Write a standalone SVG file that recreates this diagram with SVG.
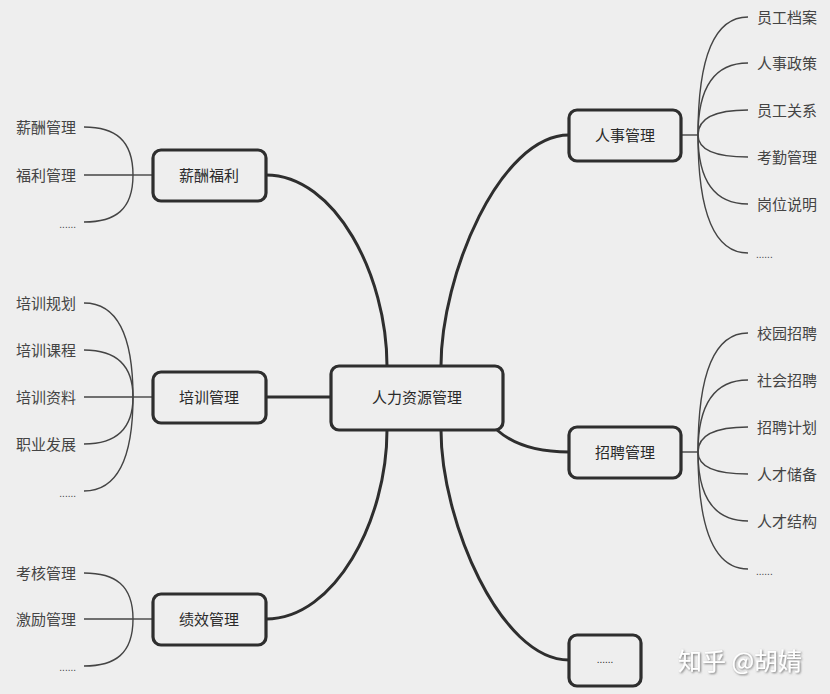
<svg xmlns="http://www.w3.org/2000/svg" width="830" height="694" viewBox="0 0 830 694">
<defs>
<style>
.bg{fill:#eeeeee}
.node rect{fill:#eeeeee;stroke:#2e2e2e;stroke-width:3.2}
.node text{font-family:"Noto Sans CJK SC","Noto Sans",sans-serif;font-size:15px;fill:#2a2a2a;text-anchor:middle;dominant-baseline:central}
.leaf{font-family:"Noto Sans CJK SC","Noto Sans",sans-serif;font-size:15px;fill:#444;dominant-baseline:central}
.l{text-anchor:end}
.dots{font-family:"Liberation Sans",sans-serif;font-size:10px;fill:#444}
.main{fill:none;stroke:#2e2e2e;stroke-width:3}
.sub{fill:none;stroke:#444;stroke-width:1.4}
.wm{font-family:"Noto Sans CJK SC",sans-serif;font-size:24px;fill:#ffffff;filter:url(#sh)}
</style>
<filter id="sh" x="-10%" y="-20%" width="130%" height="150%">
<feDropShadow dx="1" dy="1" stdDeviation="0.8" flood-color="#666" flood-opacity="0.9"/>
</filter>
</defs>
<rect class="bg" x="0" y="0" width="830" height="694"/>

<g id="connectors">
<path class="main" d="M266,175 C335,175 387,275 387,366"/>
<path class="main" d="M569,135 C500,135 441,275 441,366"/>
<path class="main" d="M266,397 L331,397"/>
<path class="main" d="M266,619 C335,619 387,520 387,430"/>
<path class="main" d="M569,660 C500,660 441,520 441,430"/>
<path class="main" d="M497,430 C515,446 540,452 569,452"/>
<path class="sub" d="M681,135 L698,135"/>
<path class="sub" d="M698,135 Q698,17 748,17"/>
<path class="sub" d="M698,135 Q698,63 748,63"/>
<path class="sub" d="M698,135 Q698,110 748,110"/>
<path class="sub" d="M698,135 Q698,157 748,157"/>
<path class="sub" d="M698,135 Q698,204 748,204"/>
<path class="sub" d="M698,135 Q698,253 748,253"/>
<path class="sub" d="M681,452 L698,452"/>
<path class="sub" d="M698,452 Q698,333 748,333"/>
<path class="sub" d="M698,452 Q698,380 748,380"/>
<path class="sub" d="M698,452 Q698,427 748,427"/>
<path class="sub" d="M698,452 Q698,474 748,474"/>
<path class="sub" d="M698,452 Q698,521 748,521"/>
<path class="sub" d="M698,452 Q698,569 748,569"/>
<path class="sub" d="M153,175 L133,175"/>
<path class="sub" d="M133,175 C133,140 115,127 84,127"/>
<path class="sub" d="M133,175 L84,175"/>
<path class="sub" d="M133,175 C133,210 115,222 84,222"/>
<path class="sub" d="M153,397 L133,397"/>
<path class="sub" d="M133,397 Q133,303 84,303"/>
<path class="sub" d="M133,397 Q133,350 84,350"/>
<path class="sub" d="M133,397 L84,397"/>
<path class="sub" d="M133,397 Q133,444 84,444"/>
<path class="sub" d="M133,397 Q133,491 84,491"/>
<path class="sub" d="M153,619 L133,619"/>
<path class="sub" d="M133,619 C133,585 115,573 84,573"/>
<path class="sub" d="M133,619 L84,619"/>
<path class="sub" d="M133,619 C133,654 115,666 84,666"/>
</g>

<g id="center" class="node"><rect x="331" y="366" width="172" height="64" rx="8"/><text x="417" y="396">人力资源管理</text></g>
<g id="n-renshi" class="node"><rect x="569" y="110" width="112" height="51" rx="8"/><text x="625" y="134">人事管理</text></g>
<g id="n-zhaopin" class="node"><rect x="569" y="427" width="112" height="51" rx="8"/><text x="625" y="451">招聘管理</text></g>
<g id="n-more" class="node"><rect x="569" y="635" width="72" height="51" rx="8"/><text class="dots" x="605" y="663" style="font-family:'Liberation Sans',sans-serif;font-size:10px;dominant-baseline:auto">......</text></g>
<g id="n-xinchou" class="node"><rect x="153" y="150" width="113" height="51" rx="8"/><text x="209" y="174">薪酬福利</text></g>
<g id="n-peixun" class="node"><rect x="153" y="372" width="113" height="51" rx="8"/><text x="209" y="396">培训管理</text></g>
<g id="n-jixiao" class="node"><rect x="153" y="594" width="113" height="51" rx="8"/><text x="209" y="618">绩效管理</text></g>

<g id="leaves-renshi">
<text class="leaf" x="757" y="16">员工档案</text>
<text class="leaf" x="757" y="62">人事政策</text>
<text class="leaf" x="757" y="109">员工关系</text>
<text class="leaf" x="757" y="156">考勤管理</text>
<text class="leaf" x="757" y="203">岗位说明</text>
<text class="dots" x="756" y="258">......</text>
</g>
<g id="leaves-zhaopin">
<text class="leaf" x="757" y="332">校园招聘</text>
<text class="leaf" x="757" y="379">社会招聘</text>
<text class="leaf" x="757" y="426">招聘计划</text>
<text class="leaf" x="757" y="473">人才储备</text>
<text class="leaf" x="757" y="520">人才结构</text>
<text class="dots" x="756" y="575">......</text>
</g>
<g id="leaves-xinchou">
<text class="leaf l" x="76" y="126">薪酬管理</text>
<text class="leaf l" x="76" y="174">福利管理</text>
<text class="dots l" x="76" y="228" style="text-anchor:end">......</text>
</g>
<g id="leaves-peixun">
<text class="leaf l" x="76" y="302">培训规划</text>
<text class="leaf l" x="76" y="349">培训课程</text>
<text class="leaf l" x="76" y="396">培训资料</text>
<text class="leaf l" x="76" y="443">职业发展</text>
<text class="dots l" x="76" y="497" style="text-anchor:end">......</text>
</g>
<g id="leaves-jixiao">
<text class="leaf l" x="76" y="572">考核管理</text>
<text class="leaf l" x="76" y="618">激励管理</text>
<text class="dots l" x="76" y="671" style="text-anchor:end">......</text>
</g>
<text class="wm" x="678" y="670">知乎 @胡婧</text>
</svg>
